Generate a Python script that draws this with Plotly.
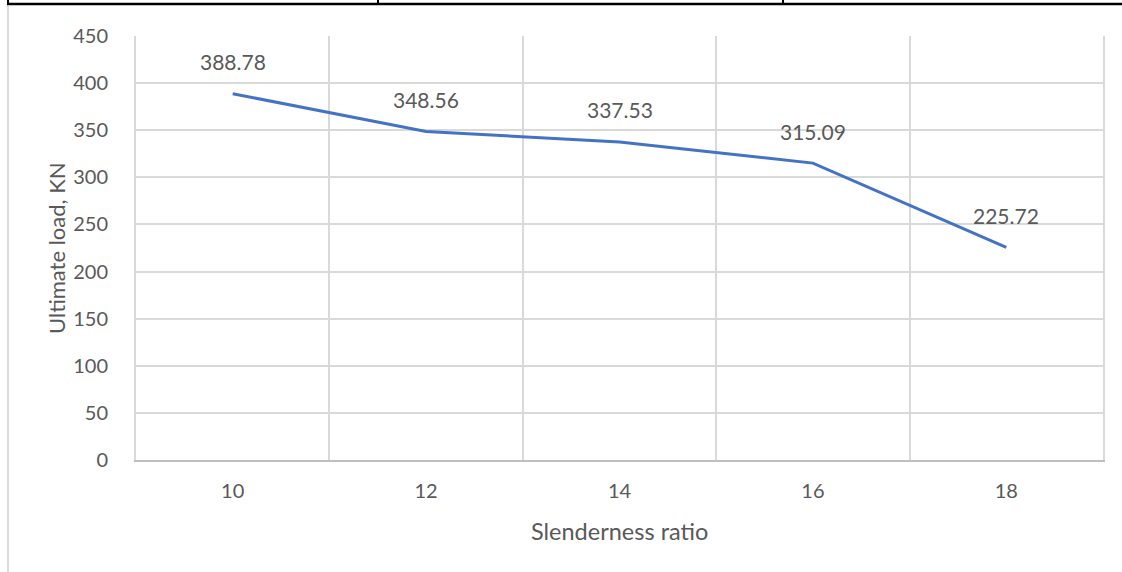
import plotly.graph_objects as go

slenderness = [10, 12, 14, 16, 18]
ultimate_load = [388.78, 348.56, 337.53, 315.09, 225.72]
y_ticks = [0, 50, 100, 150, 200, 250, 300, 350, 400, 450]

W, H = 1122, 572
L, R, T, B = 136, 1103, 36, 460
pw, ph = R - L, B - T

def px(x):
    return (x - L) / pw

def py(y):
    return (B - y) / ph

FONT = "Lato"
TXT = "#595959"
GRID = "#d9d9d9"

fig = go.Figure()
fig.add_trace(go.Scatter(
    x=slenderness, y=ultimate_load, mode="lines",
    line=dict(color="#4472C4", width=3), hoverinfo="skip", showlegend=False,
))

for xv, yv in zip(slenderness, ultimate_load):
    fig.add_annotation(x=xv, y=yv, text=f"{yv:.2f}", showarrow=False,
                       yshift=32, font=dict(family=FONT, size=21, color=TXT))

fig.add_annotation(xref="paper", yref="paper", x=px(56), y=py(248),
                   text="Ultimate load, KN", textangle=-90, showarrow=False,
                   xanchor="center", yanchor="middle",
                   font=dict(family=FONT, size=22, color=TXT))
fig.add_annotation(xref="paper", yref="paper", x=px(619), y=py(531),
                   text="Slenderness ratio", showarrow=False,
                   xanchor="center", yanchor="middle",
                   font=dict(family=FONT, size=23.5, color=TXT))

# page decorations (table border remnants)
shapes = [
    dict(type="line", xref="paper", yref="paper", x0=px(7), x1=px(1122), y0=py(4), y1=py(4),
         line=dict(color="black", width=2.5)),
    dict(type="line", xref="paper", yref="paper", x0=px(8), x1=px(8), y0=py(0), y1=py(4),
         line=dict(color="black", width=2)),
    dict(type="line", xref="paper", yref="paper", x0=px(378), x1=px(378), y0=py(0), y1=py(4),
         line=dict(color="black", width=2)),
    dict(type="line", xref="paper", yref="paper", x0=px(783), x1=px(783), y0=py(0), y1=py(4),
         line=dict(color="black", width=2)),
    dict(type="line", xref="paper", yref="paper", x0=px(8), x1=px(8), y0=py(6), y1=py(572),
         line=dict(color="#d9d9d9", width=2)),
]

fig.update_layout(
    width=W, height=H,
    margin=dict(l=L, r=W - R, t=T, b=H - B),
    paper_bgcolor="white", plot_bgcolor="white",
    shapes=shapes,
    showlegend=False,
    xaxis=dict(
        range=[9, 19], tickvals=slenderness, ticktext=[str(v) for v in slenderness],
        showgrid=False, zeroline=False,
        showline=True, linecolor="#bfbfbf", linewidth=1.5,
        ticks="outside", ticklen=12, tickcolor="rgba(0,0,0,0)",
        tickfont=dict(family=FONT, size=20, color=TXT),
        minor=dict(tick0=9, dtick=2, showgrid=True, gridcolor=GRID, gridwidth=2, ticks=""),
    ),
    yaxis=dict(
        range=[0, 450], tickvals=y_ticks, showgrid=True, gridcolor=GRID, gridwidth=2,
        zeroline=False, showline=True, linecolor=GRID, linewidth=2, mirror=True,
        ticks="outside", ticklen=22, tickcolor="rgba(0,0,0,0)",
        tickfont=dict(family=FONT, size=20, color=TXT),
    ),
)

fig.write_html("out.html", config={"displayModeBar": False},
               post_script="document.body.style.margin='0';")
